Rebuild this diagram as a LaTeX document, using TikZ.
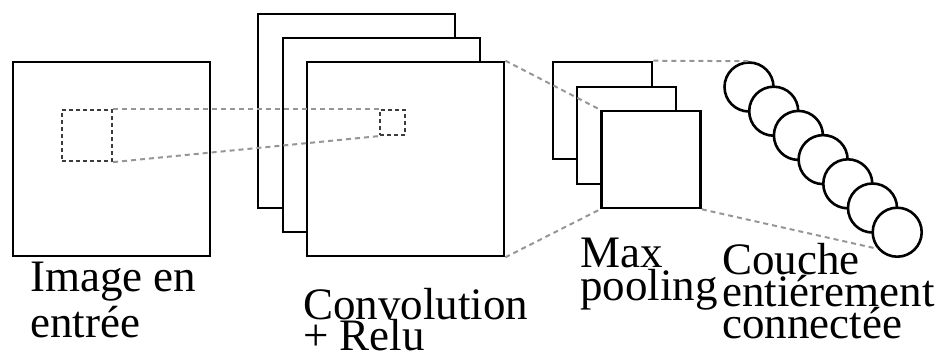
\documentclass[tikz,border=0pt]{standalone}
\usepackage{fontspec}
\setmainfont{Liberation Serif}
\usepackage{tikz}
\usetikzlibrary{positioning, shapes}
\definecolor{dashgray}{RGB}{150,150,150}
\definecolor{dotgray}{RGB}{60,60,60}

\tikzset{
  plane/.style={draw, line width=2.6pt, fill=white, inner sep=0pt,
    minimum width=197pt, minimum height=194pt},
  poolplane/.style={plane, minimum width=99pt, minimum height=97pt},
  patch/.style={draw=dotgray, line width=2.2pt, dash pattern=on 4pt off 3pt, inner sep=0pt},
  neuron/.style={circle, draw, fill=white, line width=2.6pt, inner sep=0pt, minimum size=49pt},
  link/.style={dashgray, line width=2pt, dash pattern=on 5pt off 4pt},
  caption/.style={font=\fontsize{45}{30}\selectfont, align=left, anchor=base west, inner sep=0pt}
}

\begin{document}
\begin{tikzpicture}[x=1pt, y=-1pt]
  \useasboundingbox (0,0) rectangle (950,362);

  % Image en entree
  \node[plane] (input) at (111.5,159) {};
  \node[patch, minimum width=50pt, minimum height=51pt] (inpatch) at (87,135.5) {};

  % Convolution (trois cartes)
  \node[plane] (conv1) at (356.5,111) {};
  \node[plane] (conv2) at (381.5,135) {};
  \node[plane] (conv3) at (405.5,159) {};
  \node[patch, minimum size=25pt] (convpatch) at (392.5,122.5) {};

  % Max pooling
  \node[poolplane] (pool1) at (602.5,110.5) {};
  \node[poolplane] (pool2) at (626.5,135.5) {};
  \node[poolplane] (pool3) at (651,159.5) {};

  % Couche entierement connectee
  \foreach \i in {1,...,7}
    \node[neuron] (n\i) at ({749+24.7*(\i-1)}, {87+24.2*(\i-1)}) {};

  % Liaisons en pointilles
  \draw[link] (inpatch.north east) -- (convpatch.north west);
  \draw[link] (inpatch.south east) -- (convpatch.south west);
  \draw[link] (conv3.north east) -- (pool3.north west);
  \draw[link] (conv3.south east) -- (pool3.south west);
  \draw[link] (pool1.north east) -- (n1.north);
  \draw[link] (pool3.south east) -- (n7.220);

  % Legendes (ancre = ligne de base de la derniere ligne)
  \node[caption] (imglabel) at (30,337) {Image en\\[4pt]entrée};
  \node[caption] (convlabel) at (303,350) {Convolution\\[-2pt]+ Relu};
  \node[caption] (poollabel) at (580,300) {Max\\pooling};
  \node[caption] (fclabel) at (722,338) {Couche\\[-1pt]entiérement\\[-1pt]connectée};
\end{tikzpicture}
\end{document}
